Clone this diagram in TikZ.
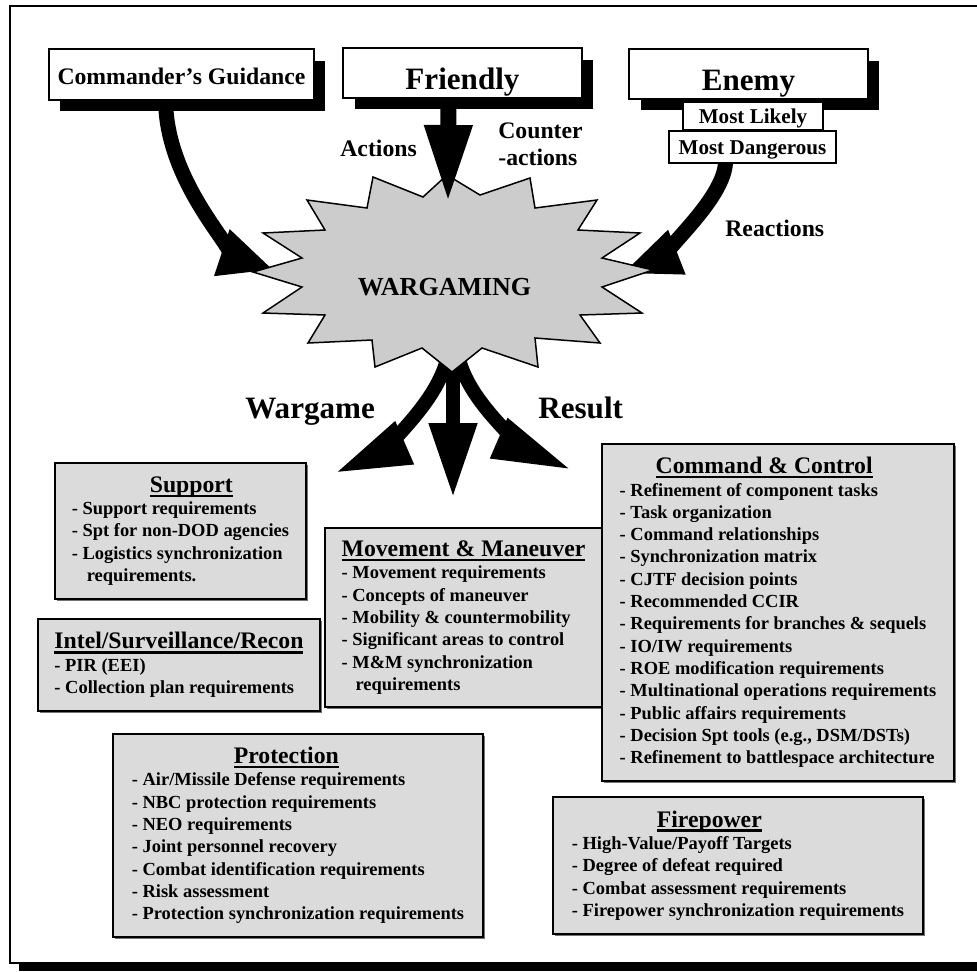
\documentclass[tikz,border=0pt]{standalone}
\usepackage{fontspec}
\setmainfont{Liberation Serif}
\usetikzlibrary{arrows.meta,calc,shadows}

\definecolor{panelgray}{HTML}{DBDBDB}
\definecolor{burstgray}{HTML}{CCCCCC}

% underlined panel heading, optionally pushed right
\newcommand{\ptitle}[2][0pt]{\hspace*{#1}{\fontsize{13.5}{12.7}\selectfont\sbox0{#2}\rlap{\rule[-2.7pt]{\wd0}{1.4pt}}\usebox0}}

\begin{document}
\begin{tikzpicture}[x=0.02cm, y=-0.02cm,
  hdr/.style={draw, line width=0.04cm, fill=white, outer sep=0pt, inner sep=0pt, anchor=north west,
    drop shadow={shadow xshift=0.23cm, shadow yshift=-0.23cm, fill=black, opacity=1}},
  tag/.style={draw, line width=0.03cm, fill=white, outer sep=0pt, inner sep=0pt, anchor=north west,
    font=\bfseries\fontsize{12}{14}\selectfont, text height=0.28cm, text depth=0pt},
  panel/.style={draw, line width=0.05cm, fill=panelgray, outer sep=0pt, inner sep=0pt, anchor=north west,
    align=left, font=\bfseries\fontsize{10.5}{12.7}\selectfont,
    drop shadow={shadow xshift=0.04cm, shadow yshift=-0.04cm, fill=black!55, opacity=1}},
  fat/.style={line width=0.3cm},
  lbl/.style={inner sep=0pt, font=\bfseries\fontsize{13.5}{15.3}\selectfont},
  big/.style={inner sep=0pt, font=\bfseries\fontsize{17.7}{20}\selectfont}]

\useasboundingbox (0,0) rectangle (977,971);
\fill[white] (0,0) rectangle (977,971);

% page frame with its shadow
\fill (19,14) rectangle (999,971);
\draw[fill=white, line width=0.05cm] (10,6) rectangle (990,963);

% inputs
\node[hdr, minimum width=5.3cm, minimum height=1.02cm, font=\bfseries\fontsize{13.5}{16}\selectfont,
  text height=0.42cm, text depth=0pt] (cg) at (49,49) {Commander’s Guidance};
\node[hdr, minimum width=4.78cm, minimum height=1.0cm, font=\bfseries\fontsize{17.7}{20}\selectfont,
  text height=0.65cm, text depth=0pt] (fr) at (343,48) {Friendly};
\node[hdr, minimum width=4.78cm, minimum height=1.0cm, font=\bfseries\fontsize{17.7}{20}\selectfont,
  text height=0.65cm, text depth=0pt] (en) at (629,49) {Enemy};
\node[tag, minimum width=2.8cm, minimum height=0.56cm] (ml) at (683,102) {Most Likely};
\node[tag, minimum width=3.34cm, minimum height=0.64cm] (md) at (669,131) {Most Dangerous};

% arrow tips (hidden under the burst or free)
\coordinate (cgtip) at (274,270);
\coordinate (entip) at (621,274);
\coordinate (frtip) at (448,203);
\coordinate (wgtop) at (453,345);
\coordinate (outl) at (335,473);
\coordinate (outm) at (453,498);
\coordinate (outr) at (572,470);

\draw[fat, -{Triangle[length=1.1cm, width=0.9cm]}]
  ($(cg.south west)!0.44!(cg.south east)$) .. controls (166,190) and (250,262) .. (cgtip);
\draw[fat, -{Triangle[length=1.2cm, width=0.86cm]}]
  ($(md.south)+(-27,0)$) .. controls (723,205) and (644,265) .. (entip);

\draw[line width=0.28cm, -{Triangle[length=1.52cm, width=0.86cm]}]
  ($(wgtop)+(-4,0)$) .. controls (447,405) and (358,463) .. (outl);
\draw[line width=0.28cm, -{Triangle[length=1.5cm, width=0.9cm]}] (wgtop) -- (outm);
\draw[line width=0.28cm, -{Triangle[length=1.6cm, width=0.8cm]}]
  ($(wgtop)+(4,0)$) .. controls (459,405) and (549,460) .. (outr);

% the wargaming burst
\filldraw[fill=burstgray, line width=0.03cm, line join=miter]
  (447,175) -- (480,195) -- (530,178) -- (535,208) -- (597,200) -- (578,230) --
  (640,233) -- (602,258) -- (653,270) -- (602,287) -- (642,313) -- (580,315) --
  (600,343) -- (535,338) -- (538,367) -- (482,348) -- (452,372) -- (422,348) --
  (375,367) -- (372,340) -- (308,343) -- (325,315) -- (263,313) -- (302,287) --
  (253,272) -- (302,258) -- (263,233) -- (325,230) -- (307,200) -- (367,208) --
  (373,177) -- (423,197) -- cycle;
\node[anchor=base, inner sep=0pt, font=\bfseries\fontsize{14.8}{16}\selectfont] (wg) at (444.5,295) {WARGAMING};

\draw[line width=0.32cm, -{Triangle[length=1.56cm, width=0.88cm]}] ($(fr.south)+(-14,0)$) -- (frtip);

% arrow labels
\node[lbl, anchor=base west] (act) at (340,156) {Actions};
\node[lbl, anchor=west, align=left] (cnt) at (498,144.5) {Counter\\-actions};
\node[lbl, anchor=base west] (rea) at (725,236) {Reactions};
\node[big, anchor=base west] (wgm) at (245,418) {Wargame};
\node[big, anchor=base west] (res) at (538,418) {Result};

% results
\node[panel, minimum width=5.02cm, minimum height=2.72cm] (sup) at (55,463) {\ptitle[1.56cm]{Support}\\
- Support requirements\\
- Spt for non-DOD agencies\\
- Logistics synchronization\\
\hspace*{0.3cm}requirements.};

\node[panel, minimum width=5.64cm, minimum height=1.84cm] (isr) at (38,619) {\ptitle{Intel/Surveillance/Recon}\\
- PIR (EEI)\\
- Collection plan requirements};

\node[panel, minimum width=5.54cm, minimum height=3.58cm] (mm) at (325,528) {\ptitle{Movement \& Maneuver}\\
- Movement requirements\\
- Concepts of maneuver\\
- Mobility \& countermobility\\
- Significant areas to control\\
- M\&M synchronization\\
\hspace*{0.28cm}requirements};

\node[panel, minimum width=7.04cm, minimum height=6.74cm] (cc) at (602,444) {\ptitle[0.72cm]{Command \& Control}\\
- Refinement of component tasks\\
- Task organization\\
- Command relationships\\
- Synchronization matrix\\
- CJTF decision points\\
- Recommended CCIR\\
- Requirements for branches \& sequels\\
- IO/IW requirements\\
- ROE modification requirements\\
- Multinational operations requirements\\
- Public affairs requirements\\
- Decision Spt tools (e.g., DSM/DSTs)\\
- Refinement to battlespace architecture};

\node[panel, minimum width=7.4cm, minimum height=4.06cm] (pro) at (113,734) {\ptitle[2.04cm]{Protection}\\
- Air/Missile Defense requirements\\
- NBC protection requirements\\
- NEO requirements\\
- Joint personnel recovery\\
- Combat identification requirements\\
- Risk assessment\\
- Protection synchronization requirements};

\node[panel, minimum width=7.4cm, minimum height=2.74cm] (fp) at (553,797) {\ptitle[1.7cm]{Firepower}\\
- High-Value/Payoff Targets\\
- Degree of defeat required\\
- Combat assessment requirements\\
- Firepower synchronization requirements};

\end{tikzpicture}
\end{document}
